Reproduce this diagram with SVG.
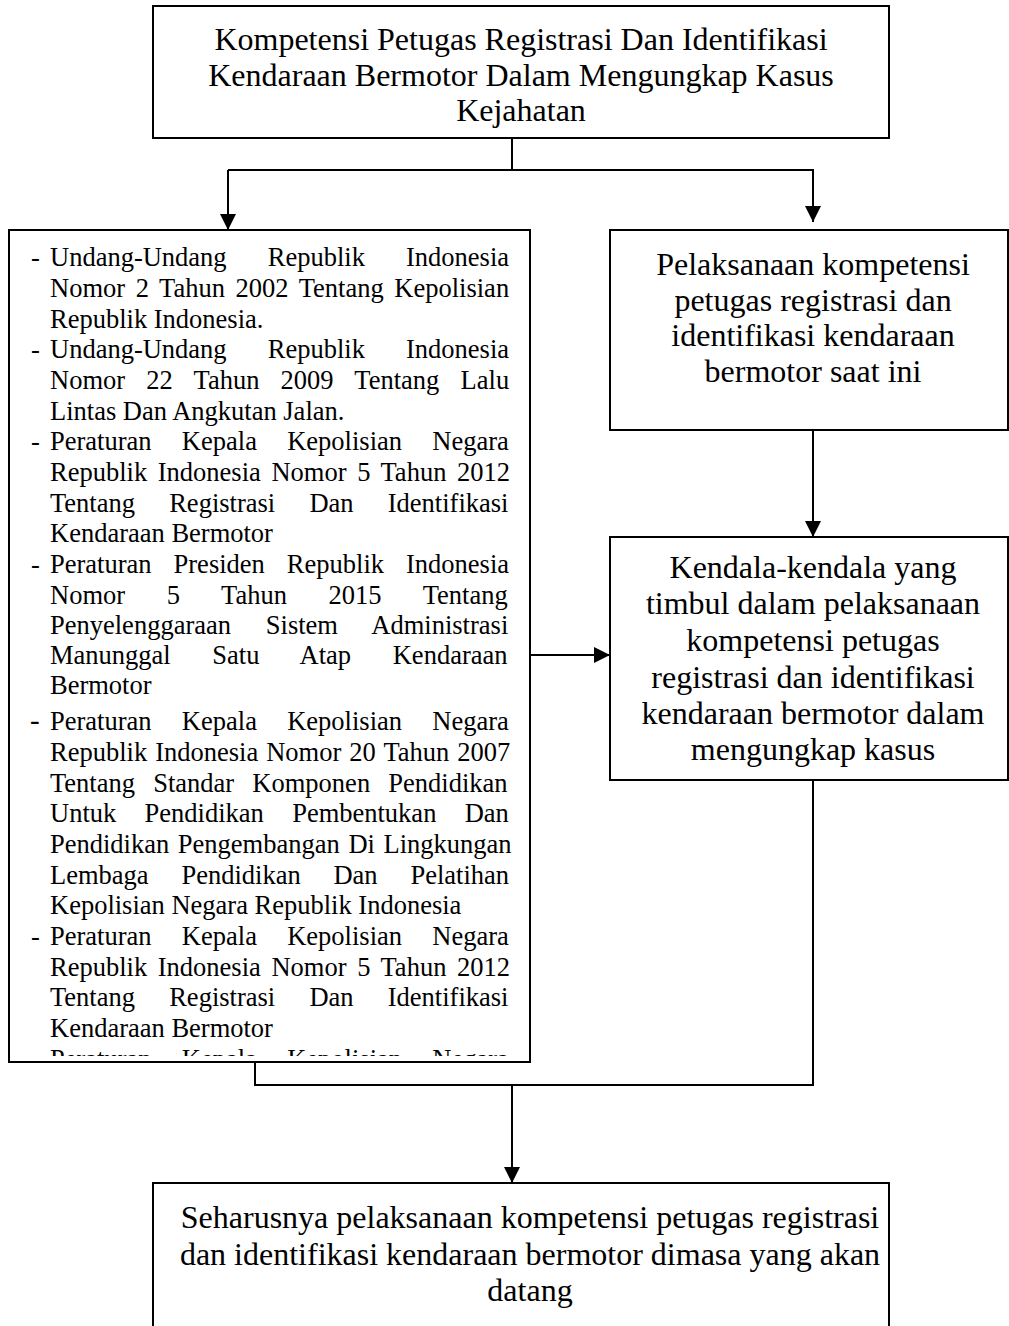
<svg xmlns="http://www.w3.org/2000/svg" width="1009" height="1326" viewBox="0 0 1009 1326">
<style>
.box{fill:#fff;stroke:#000;stroke-width:2}
.ln{fill:none;stroke:#000;stroke-width:2}
.t{font-family:"Liberation Serif","Times New Roman",serif;fill:#000}
.big{font-size:32px;text-anchor:middle}
.sm{font-size:26.5px}
</style>
<defs>
<marker id="ah" markerUnits="userSpaceOnUse" markerWidth="16" markerHeight="16" viewBox="0 0 16 16" refX="16" refY="8" orient="auto">
<path d="M0,0 L16,8 L0,16 Z" fill="#000"/>
</marker>
<clipPath id="lclip"><rect x="0" y="230" width="540" height="826"/></clipPath>
</defs>

<g id="connectors">
<path class="ln" d="M512,138 V170 H228"/>
<path class="ln" d="M228,170 V230" marker-end="url(#ah)"/>
<path class="ln" d="M512,170 H813 V222" marker-end="url(#ah)"/>
<path class="ln" d="M813,430 V537" marker-end="url(#ah)"/>
<path class="ln" d="M530,655 H610" marker-end="url(#ah)"/>
<path class="ln" d="M255,1062 V1085 H813 V780"/>
<path class="ln" d="M512,1085 V1183" marker-end="url(#ah)"/>
</g>

<g id="node-top">
<rect class="box" x="153" y="6" width="736" height="132"/>
<text class="t big" x="521" y="50">Kompetensi Petugas Registrasi Dan Identifikasi</text>
<text class="t big" x="521" y="86">Kendaraan Bermotor Dalam Mengungkap Kasus</text>
<text class="t big" x="521" y="121">Kejahatan</text>
</g>

<g id="node-left">
<rect class="box" x="9" y="230" width="521" height="832"/>
<g class="t sm" clip-path="url(#lclip)">
<text x="31" y="266">-</text><text x="50" y="266" word-spacing="34.5">Undang-Undang Republik Indonesia</text>
<text x="50" y="297" word-spacing="4">Nomor 2 Tahun 2002 Tentang Kepolisian</text>
<text x="50" y="328">Republik Indonesia.</text>
<text x="31" y="358">-</text><text x="50" y="358" word-spacing="34.5">Undang-Undang Republik Indonesia</text>
<text x="50" y="389" word-spacing="14.6">Nomor 22 Tahun 2009 Tentang Lalu</text>
<text x="50" y="420">Lintas Dan Angkutan Jalan.</text>
<text x="31" y="450">-</text><text x="50" y="450" word-spacing="23.7">Peraturan Kepala Kepolisian Negara</text>
<text x="50" y="481" word-spacing="4">Republik Indonesia Nomor 5 Tahun 2012</text>
<text x="50" y="512" word-spacing="27.6">Tentang Registrasi Dan Identifikasi</text>
<text x="50" y="542">Kendaraan Bermotor</text>
<text x="31" y="573">-</text><text x="50" y="573" word-spacing="15.4">Peraturan Presiden Republik Indonesia</text>
<text x="50" y="604" word-spacing="35">Nomor 5 Tahun 2015 Tentang</text>
<text x="50" y="634" word-spacing="28.2">Penyelenggaraan Sistem Administrasi</text>
<text x="50" y="664" word-spacing="35">Manunggal Satu Atap Kendaraan</text>
<text x="50" y="694">Bermotor</text>
<text x="30" y="730" style="font-size:29px">-</text><text x="50" y="730" word-spacing="23.7">Peraturan Kepala Kepolisian Negara</text>
<text x="50" y="761" word-spacing="1.4">Republik Indonesia Nomor 20 Tahun 2007</text>
<text x="50" y="792" word-spacing="11.6">Tentang Standar Komponen Pendidikan</text>
<text x="50" y="822" word-spacing="21.7">Untuk Pendidikan Pembentukan Dan</text>
<text x="50" y="853" word-spacing="2">Pendidikan Pengembangan Di Lingkungan</text>
<text x="50" y="884" word-spacing="26.2">Lembaga Pendidikan Dan Pelatihan</text>
<text x="50" y="914">Kepolisian Negara Republik Indonesia</text>
<text x="31" y="945">-</text><text x="50" y="945" word-spacing="23.7">Peraturan Kepala Kepolisian Negara</text>
<text x="50" y="976" word-spacing="4">Republik Indonesia Nomor 5 Tahun 2012</text>
<text x="50" y="1006" word-spacing="27.6">Tentang Registrasi Dan Identifikasi</text>
<text x="50" y="1037">Kendaraan Bermotor</text>
<text x="31" y="1068">-</text><text x="50" y="1068" word-spacing="23.7">Peraturan Kepala Kepolisian Negara</text>
</g>
</g>

<g id="node-current">
<rect class="box" x="610" y="230" width="398" height="200"/>
<text class="t big" x="813" y="275">Pelaksanaan kompetensi</text>
<text class="t big" x="813" y="311">petugas registrasi dan</text>
<text class="t big" x="813" y="346">identifikasi kendaraan</text>
<text class="t big" x="813" y="382">bermotor saat ini</text>
</g>

<g id="node-obstacles">
<rect class="box" x="610" y="537" width="398" height="243"/>
<text class="t big" x="813" y="578">Kendala-kendala yang</text>
<text class="t big" x="813" y="614">timbul dalam pelaksanaan</text>
<text class="t big" x="813" y="651">kompetensi petugas</text>
<text class="t big" x="813" y="688">registrasi dan identifikasi</text>
<text class="t big" x="813" y="724">kendaraan bermotor dalam</text>
<text class="t big" x="813" y="760">mengungkap kasus</text>
</g>

<g id="node-bottom">
<rect class="box" x="153" y="1183" width="736" height="160"/>
<text class="t big" x="530" y="1228">Seharusnya pelaksanaan kompetensi petugas registrasi</text>
<text class="t big" x="530" y="1265">dan identifikasi kendaraan bermotor dimasa yang akan</text>
<text class="t big" x="530" y="1301">datang</text>
</g>
</svg>
